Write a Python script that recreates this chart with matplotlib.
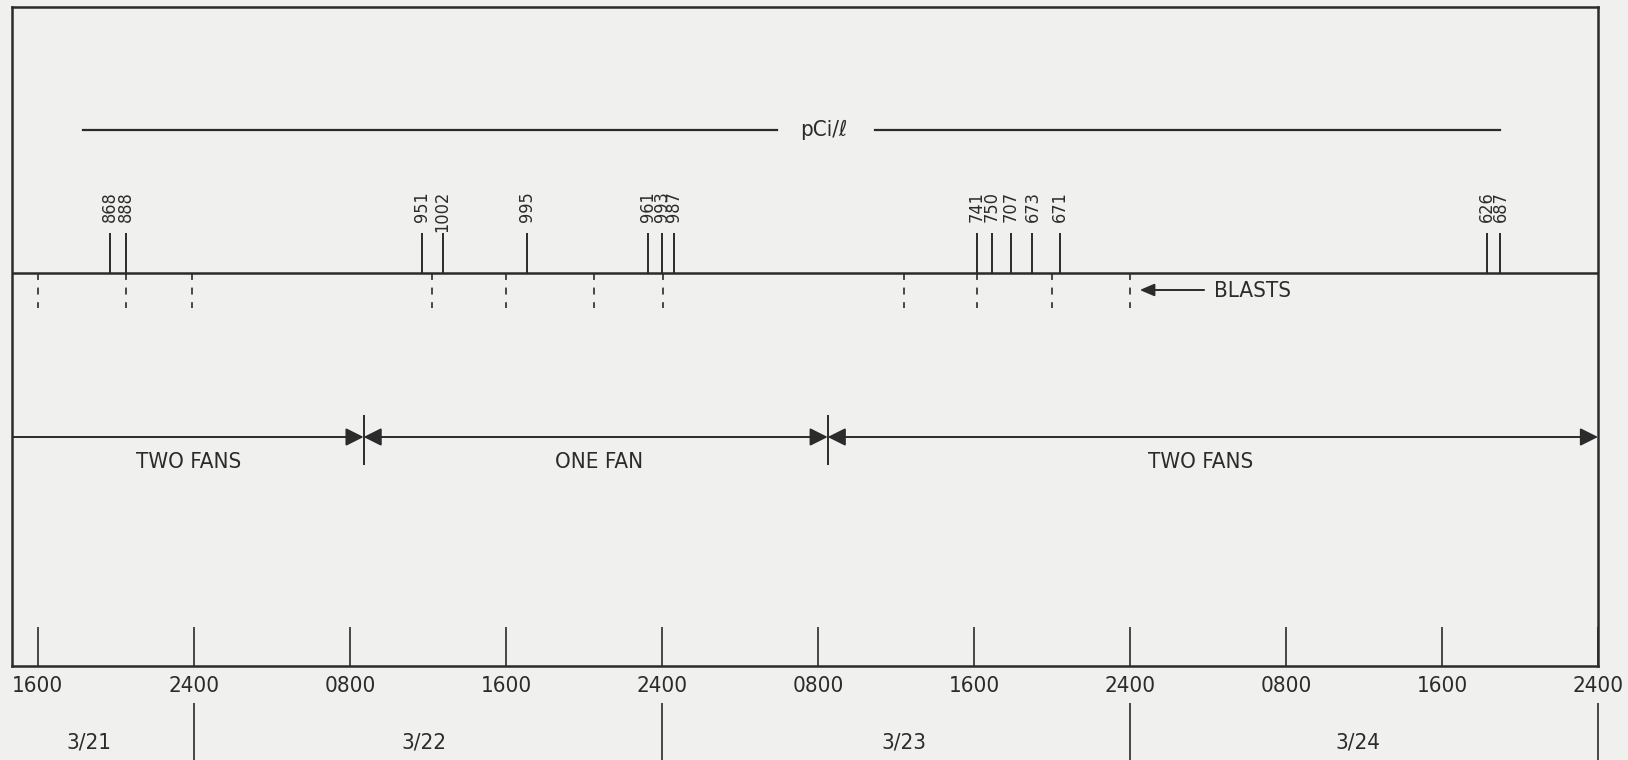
import matplotlib
matplotlib.use("Agg")
import matplotlib.pyplot as plt
from matplotlib.patches import FancyArrowPatch

# ---------------------------------------------------------------------------
# Data (time in hours after 1600 on 3/21)
# ---------------------------------------------------------------------------
TICK_HOURS = [0, 8, 16, 24, 32, 40, 48, 56, 64, 72, 80]
TICK_LABELS = ["1600", "2400", "0800", "1600", "2400", "0800",
               "1600", "2400", "0800", "1600", "2400"]

DAY_BOUNDARY_HOURS = [8, 32, 56, 80]
DATE_LABELS = ["3/21", "3/22", "3/23", "3/24"]
DATE_LABEL_HOURS = [2.6, 19.8, 44.4, 67.7]

# radon daughter samples (pCi/l) and when they were taken
SAMPLE_HOURS = [3.7, 4.5, 19.7, 20.75, 25.1, 31.3, 32.0, 32.6,
                48.15, 48.9, 49.9, 51.0, 52.4, 74.3, 75.0]
SAMPLE_PCI = [868, 888, 951, 1002, 995, 961, 993, 987,
              741, 750, 707, 673, 671, 626, 687]

BLAST_HOURS = [0.0, 4.5, 7.9, 20.2, 24.0, 28.5, 32.05, 44.4, 48.15, 52.0, 56.0]

FAN_CHANGE_HOURS = [16.7, 40.5]
FAN_LABELS = ["TWO FANS", "ONE FAN", "TWO FANS"]
FAN_LABEL_HOURS = [7.75, 28.8, 59.6]

# ---------------------------------------------------------------------------
# Style
# ---------------------------------------------------------------------------
BG = "#f0f0ef"
INK = "#2b2b2b"
plt.rcParams["font.family"] = ["DejaVu Sans"]
plt.rcParams["font.stretch"] = "condensed"
plt.rcParams["lines.scale_dashes"] = False

X_LEFT, X_RIGHT = -1.33, 80.0
Y_LINE_PCI = 130      # vertical layout in pixel rows from the top
Y_BLAST = 273
Y_FAN = 437
Y_AXIS = 666
Y_TOP = 7

fig = plt.figure(figsize=(16.28, 7.60), dpi=100)
fig.patch.set_facecolor(BG)
# axes box == drawn frame
ax = fig.add_axes([12 / 1628, (760 - Y_AXIS) / 760, 1586 / 1628, (Y_AXIS - Y_TOP) / 760])
ax.set_facecolor(BG)
ax.set_xlim(X_LEFT, X_RIGHT)
ax.set_ylim(Y_AXIS, Y_TOP)
for s in ax.spines.values():
    s.set_color(INK)
    s.set_linewidth(1.8)

ax.set_xticks(TICK_HOURS, labels=TICK_LABELS)
ax.set_yticks([])
ax.tick_params(axis="x", direction="in", length=28, width=1.2, color=INK,
               labelsize=16, labelcolor=INK, pad=7)

# day separators and date labels below the time axis
ax.vlines(DAY_BOUNDARY_HOURS, 703, 762, color=INK, lw=1.2, clip_on=False)
for h, d in zip(DATE_LABEL_HOURS, DATE_LABELS):
    ax.text(h, 742, d, ha="center", va="center", fontsize=16, color=INK, clip_on=False)

# pCi/l header line
ax.plot([2.3, 37.9], [Y_LINE_PCI] * 2, color=INK, lw=1.6)
ax.plot([42.9, 75.0], [Y_LINE_PCI] * 2, color=INK, lw=1.6)
ax.text(40.3, Y_LINE_PCI, "pCi/ℓ", ha="center", va="center", fontsize=16, color=INK)

# sample spikes with concentrations
ax.plot([X_LEFT, X_RIGHT], [Y_BLAST] * 2, color=INK, lw=1.8)
ax.vlines(SAMPLE_HOURS, 233, Y_BLAST, color=INK, lw=1.4)
for h, v in zip(SAMPLE_HOURS, SAMPLE_PCI):
    ax.text(h, 191, str(v), rotation=90, ha="center", va="top", fontsize=13, color=INK)

# blasts
ax.vlines(BLAST_HOURS, Y_BLAST, 308, color=INK, lw=1.2, linestyles=[(0, (5, 5.5))])
ax.add_patch(FancyArrowPatch((59.8, 290), (56.5, 290), arrowstyle="-|>,head_length=0.4,head_width=0.17",
                             mutation_scale=22, color=INK, lw=1.4, shrinkA=0, shrinkB=0))
ax.text(60.3, 291, "BLASTS", ha="left", va="center", fontsize=16, color=INK)

# fan periods
bounds = [X_LEFT] + FAN_CHANGE_HOURS + [X_RIGHT]
for i in range(len(bounds) - 1):
    style = "-|>" if i == 0 else "<|-|>"
    ax.add_patch(FancyArrowPatch((bounds[i], Y_FAN), (bounds[i + 1], Y_FAN),
                                 arrowstyle=style + ",head_length=0.4,head_width=0.2",
                                 mutation_scale=27, color=INK, lw=1.4, shrinkA=0, shrinkB=0))
ax.vlines(FAN_CHANGE_HOURS, 415, 465, color=INK, lw=1.4)
for h, lab in zip(FAN_LABEL_HOURS, FAN_LABELS):
    ax.text(h, 462, lab, ha="center", va="center", fontsize=16, color=INK)

fig.savefig("out.png", dpi=100, facecolor=BG)
